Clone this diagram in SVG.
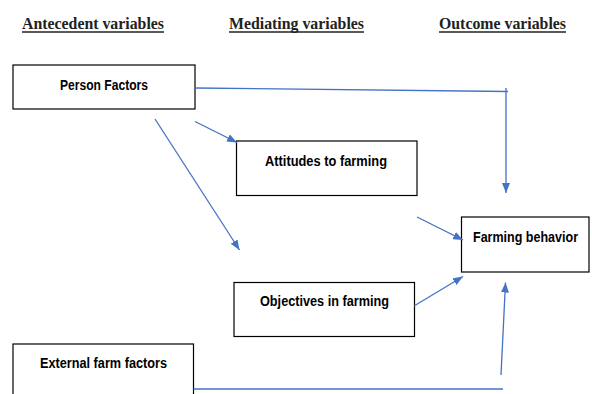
<svg xmlns="http://www.w3.org/2000/svg" width="592" height="394" viewBox="0 0 592 394">
<defs>
<style>
.hdr{font-family:"Liberation Serif","Times New Roman",serif;font-weight:bold;font-size:17px;fill:#222}
.ul{stroke:#222;stroke-width:1.4}
.box{fill:#fff;stroke:#000;stroke-width:1.2}
.lbl{font-family:"Liberation Sans",Arial,sans-serif;font-weight:bold;font-size:14px;fill:#000}
.con{fill:none;stroke:#4472C4;stroke-width:1.3}
</style>
<marker id="arr" markerUnits="userSpaceOnUse" markerWidth="10" markerHeight="8" refX="10" refY="4" orient="auto">
<path d="M0,0 L10,4 L0,8 z" fill="#4472C4"/>
</marker>
</defs>
<rect width="592" height="394" fill="#fff"/>
<g id="headers">
<text class="hdr" x="22" y="29" textLength="142" lengthAdjust="spacingAndGlyphs">Antecedent variables</text>
<line class="ul" x1="22" y1="32" x2="164" y2="32"/>
<text class="hdr" x="229" y="29" textLength="135" lengthAdjust="spacingAndGlyphs">Mediating variables</text>
<line class="ul" x1="229" y1="32" x2="364" y2="32"/>
<text class="hdr" x="439" y="29" textLength="127" lengthAdjust="spacingAndGlyphs">Outcome variables</text>
<line class="ul" x1="439" y1="32" x2="566" y2="32"/>
</g>
<g id="person">
<rect class="box" x="13" y="65" width="182" height="44"/>
<text class="lbl" x="60" y="90" textLength="88" lengthAdjust="spacingAndGlyphs">Person Factors</text>
</g>
<g id="attitudes">
<rect class="box" x="236.5" y="141" width="180.5" height="54.5"/>
<text class="lbl" x="265" y="166" textLength="122" lengthAdjust="spacingAndGlyphs">Attitudes to farming</text>
</g>
<g id="behavior">
<rect class="box" x="461.5" y="217" width="127.5" height="55"/>
<text class="lbl" x="473" y="242" textLength="105" lengthAdjust="spacingAndGlyphs">Farming behavior</text>
</g>
<g id="objectives">
<rect class="box" x="234" y="282.5" width="180.5" height="54"/>
<text class="lbl" x="260" y="306" textLength="129" lengthAdjust="spacingAndGlyphs">Objectives in farming</text>
</g>
<g id="external">
<rect class="box" x="13" y="344" width="180.5" height="60"/>
<text class="lbl" x="40" y="367.5" textLength="127" lengthAdjust="spacingAndGlyphs">External farm factors</text>
</g>
<g id="connectors">
<polyline class="con" points="195,88 508,91.5"/>
<line class="con" x1="506" y1="88" x2="506" y2="193" marker-end="url(#arr)"/>
<line class="con" x1="195" y1="121.5" x2="237" y2="142.5" marker-end="url(#arr)"/>
<line class="con" x1="155" y1="119" x2="239.5" y2="250" marker-end="url(#arr)"/>
<line class="con" x1="417" y1="217" x2="463" y2="240" marker-end="url(#arr)"/>
<line class="con" x1="414" y1="306" x2="463" y2="276.5" marker-end="url(#arr)"/>
<line class="con" x1="193.5" y1="389" x2="503" y2="389"/>
<line class="con" x1="501" y1="375" x2="505.5" y2="282.5" marker-end="url(#arr)"/>
</g>
</svg>
